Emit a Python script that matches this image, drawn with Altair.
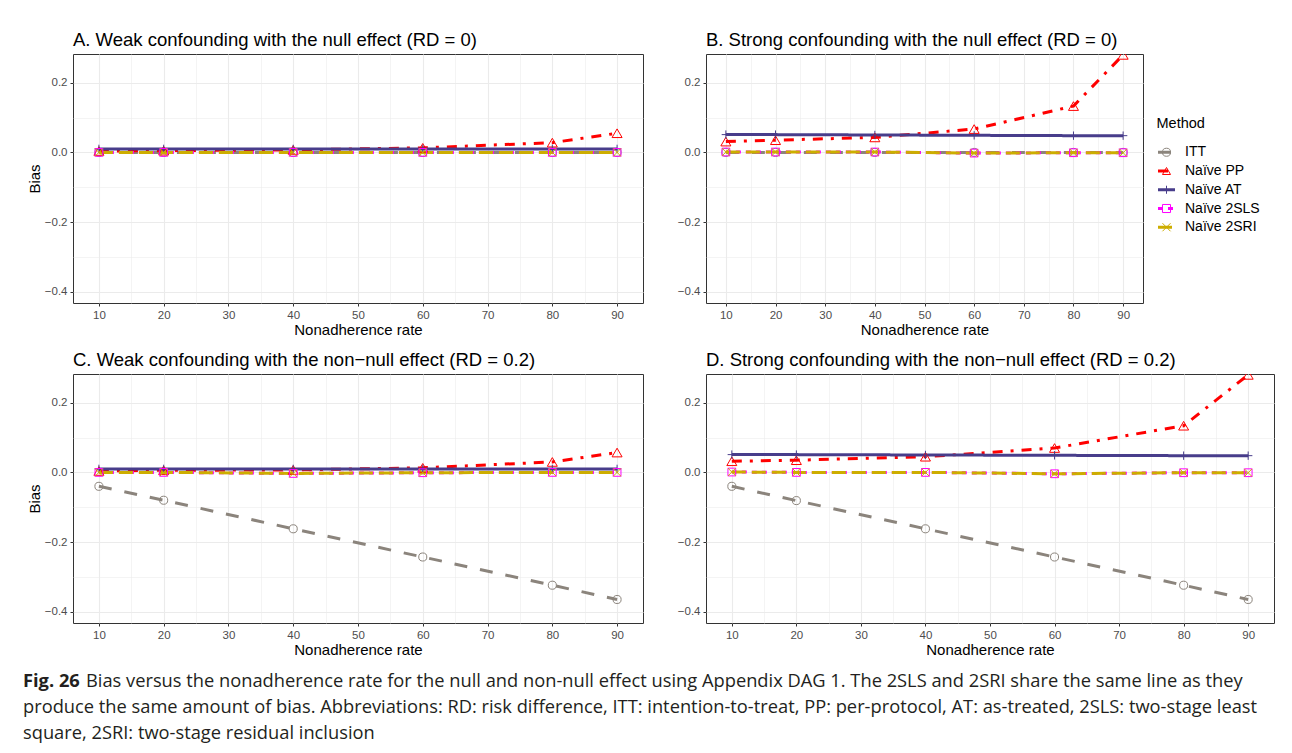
import altair as alt
import pandas as pd

# ---------------- data ----------------
rates = [10, 20, 40, 60, 80, 90]
methods = ["ITT", "Naïve PP", "Naïve AT", "Naïve 2SLS", "Naïve 2SRI"]

# Panel A: weak confounding, null effect
A_itt = [0.000, 0.000, 0.000, 0.000, 0.000, 0.000]
A_pp = [0.004, 0.005, 0.007, 0.013, 0.028, 0.055]
A_at = [0.010, 0.010, 0.010, 0.010, 0.010, 0.010]
A_2sls = [0.000, 0.000, 0.000, 0.000, 0.000, 0.000]
A_2sri = [0.000, 0.000, 0.000, 0.000, 0.000, 0.000]

# Panel B: strong confounding, null effect
B_itt = [0.000, 0.000, 0.000, 0.000, 0.000, 0.000]
B_pp = [0.031, 0.035, 0.043, 0.067, 0.133, 0.280]
B_at = [0.051, 0.051, 0.050, 0.049, 0.048, 0.048]
B_2sls = [0.001, 0.001, 0.001, -0.002, -0.001, -0.001]
B_2sri = [0.001, 0.001, 0.001, -0.002, -0.001, -0.001]

# Panel C: weak confounding, non-null effect
C_itt = [-0.040, -0.080, -0.162, -0.243, -0.324, -0.365]
C_pp = [0.004, 0.006, 0.007, 0.013, 0.030, 0.057]
C_at = [0.010, 0.010, 0.010, 0.010, 0.010, 0.010]
C_2sls = [0.000, 0.000, -0.003, -0.001, 0.000, 0.000]
C_2sri = [0.000, 0.000, -0.003, -0.001, 0.000, 0.000]

# Panel D: strong confounding, non-null effect
D_itt = [-0.040, -0.081, -0.162, -0.243, -0.324, -0.365]
D_pp = [0.032, 0.035, 0.045, 0.070, 0.134, 0.280]
D_at = [0.051, 0.051, 0.050, 0.049, 0.048, 0.048]
D_2sls = [0.001, 0.000, 0.000, -0.004, -0.001, -0.001]
D_2sri = [0.001, 0.000, 0.000, -0.004, -0.001, -0.001]

titles = [
    "A. Weak confounding with the null effect (RD = 0)",
    "B. Strong confounding with the null effect (RD = 0)",
    "C. Weak confounding with the non\u2212null effect (RD = 0.2)",
    "D. Strong confounding with the non\u2212null effect (RD = 0.2)",
]

caption_bold = "Fig. 26"
caption_lines = [
    "Bias versus the nonadherence rate for the null and non-null effect using Appendix DAG 1. The 2SLS and 2SRI share the same line as they",
    "produce the same amount of bias. Abbreviations: RD: risk difference, ITT: intention-to-treat, PP: per-protocol, AT: as-treated, 2SLS: two-stage least",
    "square, 2SRI: two-stage residual inclusion",
]

# ---------------- styles ----------------
colors = ["#8B847C", "#FF0000", "#483D8B", "#FF00FF", "#CDAD00"]
dashes = [[13, 13], [10, 8, 3, 8], [1, 0], [5, 5], [14, 6]]
shapes = ["circle", "triangle-up", "M-1,0H1M0,-1V1", "square", "M-1,-1L1,1M-1,1L1,-1"]
sizes = [65, 100, 70, 60, 60]
FONT = "Liberation Sans"
CAPFONT = "Open Sans"
NOSTROKE = alt.ViewBackground(stroke="transparent", fill="transparent")


def make_df(series):
    rows = []
    for m, vals in zip(methods, series):
        for r, v in zip(rates, vals):
            rows.append({"method": m, "rate": r, "bias": v})
    return pd.DataFrame(rows)


dfA = make_df([A_itt, A_pp, A_at, A_2sls, A_2sri])
dfB = make_df([B_itt, B_pp, B_at, B_2sls, B_2sri])
dfC = make_df([C_itt, C_pp, C_at, C_2sls, C_2sri])
dfD = make_df([D_itt, D_pp, D_at, D_2sls, D_2sri])

x_major = "datum.value % 10 === 0"
y_major = "abs(round(datum.value * 10)) % 2 === 0"


def panel(df, title, width, ytitle):
    x_enc = alt.X(
        "rate:Q",
        scale=alt.Scale(domain=[6, 94], nice=False, zero=False),
        axis=alt.Axis(
            values=list(range(10, 95, 5)),
            labelExpr=f"{x_major} ? datum.label : ''",
            title="Nonadherence rate",
            gridWidth={"condition": {"test": x_major, "value": 1.1}, "value": 0.55},
            tickOpacity={"condition": {"test": x_major, "value": 1}, "value": 0},
        ),
    )
    y_enc = alt.Y(
        "bias:Q",
        scale=alt.Scale(domain=[-0.4325, 0.2825], nice=False, zero=False),
        axis=alt.Axis(
            values=[-0.4, -0.3, -0.2, -0.1, 0.0, 0.1, 0.2],
            format=".1f",
            labelExpr=f"{y_major} ? datum.label : ''",
            title=ytitle,
            gridWidth={"condition": {"test": y_major, "value": 1.1}, "value": 0.55},
            tickOpacity={"condition": {"test": y_major, "value": 1}, "value": 0},
        ),
    )
    base = alt.Chart(df)
    layers = []
    for i, m in enumerate(methods):
        layers.append(
            base.transform_filter(alt.datum.method == m)
            .mark_line(color=colors[i], strokeDash=dashes[i], strokeWidth=3, clip=True)
            .encode(x=x_enc, y=y_enc)
        )
    for i, m in enumerate(methods):
        layers.append(
            base.transform_filter(alt.datum.method == m)
            .mark_point(shape=shapes[i], color=colors[i], filled=False, size=sizes[i],
                        strokeWidth=1, opacity=1, clip=True)
            .encode(x=x_enc, y=y_enc)
        )
    return alt.layer(*layers).properties(
        width=width,
        height=249,
        title=alt.TitleParams(title, anchor="start", frame="group", fontSize=18.5,
                              font=FONT, fontWeight="normal", color="black", offset=5),
    )


pA = panel(dfA, titles[0], 570, "Bias")
pB = panel(dfB, titles[1], 437, "")
pC = panel(dfC, titles[2], 570, "Bias")
pD = panel(dfD, titles[3], 568, "")

# ---------------- legend (built from the method list) ----------------
leg_df = pd.DataFrame({"method": methods})
leg_y = alt.Y("method:N", sort=methods, axis=None,
              scale=alt.Scale(type="point", range=[10.5, 85.5], padding=0))
leg_color = alt.Color("method:N", legend=None,
                      scale=alt.Scale(domain=methods, range=colors))
leg_base = alt.Chart(leg_df)
leg_line = leg_base.mark_rule(strokeWidth=3).encode(
    x=alt.value(0), x2=alt.value(17), y=leg_y, color=leg_color,
    strokeDash=alt.StrokeDash("method:N", legend=None,
                              scale=alt.Scale(domain=methods, range=dashes)),
)
leg_pt = leg_base.mark_point(filled=False, strokeWidth=1, size=65, opacity=1).encode(
    x=alt.value(8.5), y=leg_y, color=leg_color,
    shape=alt.Shape("method:N", legend=None,
                    scale=alt.Scale(domain=methods, range=shapes)),
)
leg_txt = leg_base.mark_text(align="left", baseline="middle", fontSize=14, font=FONT,
                             color="black").encode(
    x=alt.value(27), y=leg_y, text="method:N",
)
legend = alt.layer(leg_line, leg_pt, leg_txt).properties(
    width=100, height=108, view=NOSTROKE,
    title=alt.TitleParams("Method", anchor="start", fontSize=14.5, font=FONT,
                          fontWeight="normal", color="black", offset=10),
).resolve_scale(color="independent")

# ---------------- caption ----------------
CAP_X = -50
cap_layers = [
    alt.Chart(pd.DataFrame({"t": [caption_bold]}))
    .mark_text(align="left", baseline="alphabetic", fontSize=18.3,
               font=CAPFONT, fontWeight="bold", color="#231F20")
    .encode(x=alt.value(CAP_X), y=alt.value(16), text="t:N")
]
for k, line in enumerate(caption_lines):
    cap_layers.append(
        alt.Chart(pd.DataFrame({"t": [line]}))
        .mark_text(align="left", baseline="alphabetic", fontSize=18.3,
                   font=CAPFONT, color="#231F20")
        .encode(x=alt.value(CAP_X + (63 if k == 0 else 0)), y=alt.value(16 + 26 * k),
                text="t:N")
    )
caption = alt.layer(*cap_layers).properties(width=1150, height=62, view=NOSTROKE)

top_pair = alt.hconcat(pA, pB, spacing=32)
row1 = alt.hconcat(top_pair, legend, spacing=12, center=True)
row2 = alt.hconcat(pC, pD, spacing=32)

chart = alt.vconcat(row1, row2, caption, spacing=12).properties(
    padding={"left": 22, "top": 30, "right": 5, "bottom": 5}
).configure(
    font=FONT,
).configure_view(
    stroke="#333333", strokeWidth=1, fill="white"
).configure_axis(
    domain=False,
    gridColor="#EBEBEB",
    tickColor="#333333",
    tickSize=3,
    labelColor="#4D4D4D",
    labelFontSize=11.5,
    labelFont=FONT,
    labelPadding=3,
    titleFont=FONT,
    titleFontSize=15,
    titleFontWeight="normal",
    titleColor="black",
    titlePadding=2,
)

chart.save("out.html", embed_options={"renderer": "svg", "actions": False})
